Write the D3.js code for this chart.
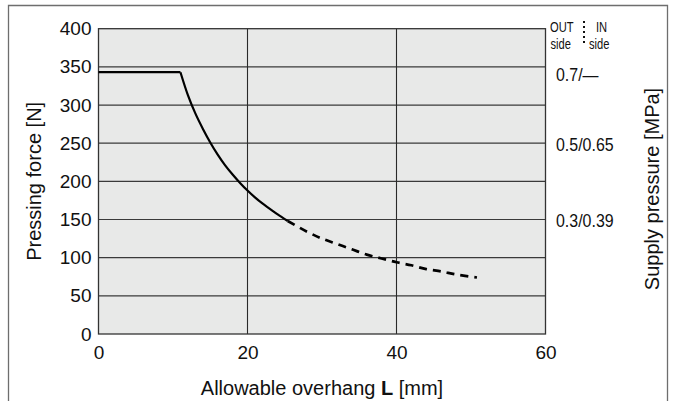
<!DOCTYPE html>
<html><head><meta charset="utf-8">
<script src="https://cdn.jsdelivr.net/npm/d3@7"></script>
<style>
html,body{margin:0;padding:0;background:#fff;}
svg{display:block;font-family:"Liberation Sans",Arial,Helvetica,sans-serif;}
</style></head>
<body>
<svg id="chart" width="677" height="401"></svg>
<script>
// ---- data ----
const xTicks = [0, 20, 40, 60];
const yTicks = [0, 50, 100, 150, 200, 250, 300, 350, 400];
// flat (max force) portion: allowable overhang L [mm] vs pressing force [N]
const flatL = [0, 11];
const flatF = [343, 343];
// solid curved portion
const solidL = [11, 12, 13, 14, 15, 16, 17, 18, 19, 20, 21, 22, 23, 24, 25.4];
const solidF = [343, 313, 289, 269, 251, 235, 221, 209, 198, 188, 179, 171, 164, 157, 148];
// dashed portion
const dashL = [25.4, 28, 30, 32, 34, 36, 38, 40, 42, 44, 46, 48, 50.8];
const dashF = [148, 134, 125, 118, 111, 104, 99, 94, 90, 85, 82, 78, 74];
// right-side supply pressure labels (OUT side / IN side) at their force levels
const pressureLabels = ["0.7/\u2014", "0.5/0.65", "0.3/0.39"];
const pressureForce = [340, 249, 149];

// ---- layout ----
const svg = d3.select("#chart");
const m = {left: 98.5, right: 545.5, top: 28.7, bottom: 334};
const x = d3.scaleLinear().domain([0, 60]).range([m.left, m.right]);
const y = d3.scaleLinear().domain([0, 400]).range([m.bottom, m.top]);

// outer frame (left, top, right)
svg.append("path")
  .attr("d", `M8.5,401 V5.5 H667.5 V401`)
  .attr("fill", "none").attr("stroke", "#6e6e6e").attr("stroke-width", 1.3);

// plot background
svg.append("rect").attr("x", m.left).attr("y", m.top)
  .attr("width", m.right - m.left).attr("height", m.bottom - m.top)
  .attr("fill", "#e8e9e8");

// gridlines
svg.append("g").selectAll("line").data(yTicks.filter(d => d > 0 && d < 400)).join("line")
  .attr("x1", m.left).attr("x2", m.right)
  .attr("y1", d => y(d)).attr("y2", d => y(d))
  .attr("stroke", "#3a3a3a").attr("stroke-width", 1.2);
svg.append("g").selectAll("line").data(xTicks.filter(d => d > 0 && d < 60)).join("line")
  .attr("y1", m.top).attr("y2", m.bottom)
  .attr("x1", d => x(d)).attr("x2", d => x(d))
  .attr("stroke", "#2a2a2a").attr("stroke-width", 1.1);

// plot border
svg.append("rect").attr("x", m.left).attr("y", m.top)
  .attr("width", m.right - m.left).attr("height", m.bottom - m.top)
  .attr("fill", "none").attr("stroke", "#333").attr("stroke-width", 1.3);

// axes (labels only)
const yAxis = svg.append("g").attr("transform", `translate(${m.left},0)`)
  .call(d3.axisLeft(y).tickValues(yTicks).tickSize(0).tickPadding(7));
yAxis.select(".domain").remove();
yAxis.selectAll("text").attr("font-size", 19).attr("fill", "#111")
  .attr("font-family", "Liberation Sans, Arial, sans-serif");

const xAxis = svg.append("g").attr("transform", `translate(0,${m.bottom})`)
  .call(d3.axisBottom(x).tickValues(xTicks).tickSize(0).tickPadding(12));
xAxis.select(".domain").remove();
xAxis.selectAll("text").attr("font-size", 19).attr("fill", "#111")
  .attr("font-family", "Liberation Sans, Arial, sans-serif");

// curves
const flatLine = d3.line().x(d => x(d[0])).y(d => y(d[1]));
const curveLine = d3.line().x(d => x(d[0])).y(d => y(d[1])).curve(d3.curveCatmullRom.alpha(0.5));
svg.append("path").datum(flatL.map((l, i) => [l, flatF[i]]))
  .attr("d", flatLine).attr("fill", "none").attr("stroke", "#000").attr("stroke-width", 2.2);
svg.append("path").datum(solidL.map((l, i) => [l, solidF[i]]))
  .attr("d", curveLine).attr("fill", "none").attr("stroke", "#000").attr("stroke-width", 2.2);
svg.append("path").datum(dashL.map((l, i) => [l, dashF[i]]))
  .attr("d", curveLine).attr("fill", "none").attr("stroke", "#000").attr("stroke-width", 2.7)
  .attr("stroke-dasharray", "8,6");

// axis titles
svg.append("text").attr("transform", `translate(41,${(m.top + m.bottom) / 2}) rotate(-90)`)
  .attr("text-anchor", "middle").attr("font-size", 20).attr("fill", "#111")
  .text("Pressing force [N]");
const xt = svg.append("text").attr("x", (m.left + m.right) / 2).attr("y", 395)
  .attr("text-anchor", "middle").attr("font-size", 20).attr("fill", "#111");
xt.append("tspan").text("Allowable overhang ");
xt.append("tspan").attr("font-weight", "bold").text("L");
xt.append("tspan").text(" [mm]");

svg.append("text").attr("transform", `translate(659,189) rotate(-90)`)
  .attr("text-anchor", "middle").attr("font-size", 20).attr("fill", "#111")
  .text("Supply pressure [MPa]");

// right pressure labels (condensed)
svg.append("g").selectAll("text").data(pressureLabels).join("text")
  .attr("transform", (d, i) => `translate(556,${y(pressureForce[i])}) scale(0.84,1)`)
  .attr("dy", "0.36em").attr("font-size", 19).attr("fill", "#111")
  .text(d => d);

// OUT side : IN side header (condensed)
const hdr = svg.append("g").attr("font-size", 15.5).attr("fill", "#111");
const hdrText = (tx, ty, s) => hdr.append("text")
  .attr("transform", `translate(${tx},${ty}) scale(0.72,1)`).text(s);
hdrText(550, 32, "OUT");
hdrText(596, 32, "IN");
hdrText(550.5, 49, "side");
hdrText(589, 49, "side");
hdr.append("line").attr("x1", 584).attr("x2", 584).attr("y1", 21).attr("y2", 46)
  .attr("stroke", "#111").attr("stroke-width", 2).attr("stroke-dasharray", "2,3");
</script>
</body></html>
